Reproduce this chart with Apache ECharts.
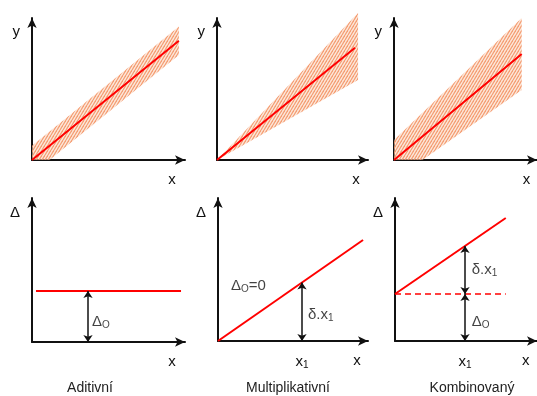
<!DOCTYPE html>
<html><head><meta charset="utf-8">
<script src="https://cdn.jsdelivr.net/npm/echarts@6/dist/echarts.min.js"></script>
<style>html,body{margin:0;padding:0;background:#fff}#c{width:537px;height:396px}</style>
</head><body><div id="c"></div>
<script>
// ---- data ----
const centerLine1 = [[0, 0], [9.6, 8.4]];
const bandUpper1 = [[0, 1], [9.6, 9.4]];
const bandLower1 = [[0, -1], [9.6, 7.4]];
const centerLine2 = [[0, 0], [9.14, 7.9]];
const bandUpper2 = [[0, 0], [9.34, 10.35]];
const bandLower2 = [[0, 0], [9.34, 5.63]];
const centerLine3 = [[0, 0], [8.93, 7.46]];
const bandUpper3 = [[0, 1.41], [8.93, 10.0]];
const bandLower3 = [[0, -1.41], [8.93, 4.93]];
const errAdditive = [[0.26, 3.54], [9.74, 3.54]];
const errMultiplicative = [[0, 0], [9.67, 7.06]];
const errCombined = [[0, 3.29], [7.8, 8.6]];
const errCombinedOffset = [[0, 3.29], [7.8, 3.29]];
const arrowXAdditive = 3.66;
const x1Multiplicative = 5.6;
const x1Combined = 4.93;
const xNamePos = [9.15, 9.2, 9.27, 9.15, 9.27, 9.2];
const yNamePos = [9.0, 9.0, 9.0, 8.96, 8.96, 8.96];
const yNames = ['y', 'y', 'y', 'Δ', 'Δ', 'Δ'];
const panelTitles = ['Aditivní', 'Multiplikativní', 'Kombinovaný'];

// ---- layout ----
const grids = [
  {left: 32, top: 18, width: 153, height: 142},
  {left: 217, top: 18, width: 151, height: 142},
  {left: 394, top: 18, width: 150, height: 142},
  {left: 32, top: 198, width: 153, height: 144},
  {left: 218, top: 198, width: 150, height: 143},
  {left: 395, top: 198, width: 150, height: 143}
];
const titlePos = [[90, 388], [288, 388], [472, 388]];
const FONT = 'Liberation Sans';

function yAt(line, x) {
  const a = line[0], b = line[1];
  return a[1] + (b[1] - a[1]) * (x - a[0]) / (b[0] - a[0]);
}
function clipY0(pts) {
  const out = [], n = pts.length;
  for (let i = 0; i < n; i++) {
    const a = pts[i], b = pts[(i + 1) % n];
    if (a[1] >= 0) out.push(a);
    if ((a[1] >= 0) !== (b[1] >= 0)) {
      const t = a[1] / (a[1] - b[1]);
      out.push([a[0] + t * (b[0] - a[0]), 0]);
    }
  }
  return out;
}
// hatch pattern
const hc = document.createElement('canvas');
hc.width = 3; hc.height = 5;
const hctx = hc.getContext('2d');
hctx.fillStyle = 'rgba(252,218,196,0.55)';
hctx.fillRect(0, 0, 3, 5);
hctx.strokeStyle = 'rgba(243,145,98,0.85)';
hctx.lineWidth = 1.3;
for (let k = -1; k <= 1; k++) {
  hctx.beginPath(); hctx.moveTo(k * 3, 5); hctx.lineTo(k * 3 + 3, 0); hctx.stroke();
}
const hatch = {image: hc, repeat: 'repeat'};

const sub = {i: {fontSize: 15, fontFamily: FONT, color: '#111'}, s: {fontSize: 10, fontFamily: FONT, color: '#111', padding: [7, 0, 0, 0]},
  d: {fontSize: 15, fontFamily: FONT, color: '#111'}};

const xAxes = grids.map((g, i) => {
  const vals = [xNamePos[i]];
  const extra = i === 4 ? x1Multiplicative : i === 5 ? x1Combined : null;
  if (extra !== null) vals.unshift(extra);
  return {
    type: 'value', gridIndex: i, min: 0, max: 10,
    axisLine: {show: true, symbol: ['none', 'arrow'], symbolSize: [7, 10], lineStyle: {color: '#111', width: 2}},
    axisTick: {show: false}, splitLine: {show: false},
    axisLabel: {show: true, customValues: vals, margin: 12, rich: sub,
      formatter: v => (extra !== null && Math.abs(v - extra) < 1e-6) ? '{i|x}{s|1}' : '{i|x}'}
  };
});
const yAxes = grids.map((g, i) => ({
  type: 'value', gridIndex: i, min: 0, max: 10,
  axisLine: {show: true, symbol: ['none', 'arrow'], symbolSize: [7, 10], lineStyle: {color: '#111', width: 2}},
  axisTick: {show: false}, splitLine: {show: false},
  axisLabel: {show: true, customValues: [yNamePos[i]], margin: 12, fontSize: 15, fontFamily: FONT, color: '#111',
    formatter: () => yNames[i]}
}));

const red = '#ff0000';
function lineSeries(i, data, extra) {
  return Object.assign({type: 'line', xAxisIndex: i, yAxisIndex: i, data: data, showSymbol: false, silent: true,
    lineStyle: {color: red, width: 2}, z: 3}, extra || {});
}
function bandSeries(i, upper, lower) {
  const poly = clipY0(upper.concat(lower.slice().reverse()));
  return {type: 'custom', xAxisIndex: i, yAxisIndex: i, data: [0], clip: false, silent: true, z: 1,
    renderItem: (p, api) => ({type: 'polygon', shape: {points: poly.map(pt => api.coord(pt))}, style: {fill: hatch, stroke: 'none'}})};
}
const arrowStyle = {symbol: ['arrow', 'arrow'], symbolSize: 7, silent: true, animation: false,
  lineStyle: {color: '#111', width: 1.5, type: 'solid'}, label: {show: false}};
function arrows(segs) {
  return Object.assign({}, arrowStyle, {data: segs.map(s => [{coord: s[0]}, {coord: s[1]}])});
}
function annot(i, items) {
  return {type: 'scatter', xAxisIndex: i, yAxisIndex: i, symbolSize: 0, silent: true, z: 5,
    data: items.map(it => ({value: it.pos, label: {show: true, position: [0, 0], align: 'left', verticalAlign: 'middle',
      formatter: it.text, rich: sub}}))};
}
const dO = '{d|Δ}{s|O}';
const dx = '{i|δ.x}{s|1}';

const series = [
  bandSeries(0, bandUpper1, bandLower1), lineSeries(0, centerLine1),
  bandSeries(1, bandUpper2, bandLower2), lineSeries(1, centerLine2),
  bandSeries(2, bandUpper3, bandLower3), lineSeries(2, centerLine3),
  lineSeries(3, errAdditive, {markLine: arrows([[[arrowXAdditive, 0], [arrowXAdditive, errAdditive[0][1]]]])}),
  annot(3, [{pos: [3.92, 1.39], text: dO}]),
  lineSeries(4, errMultiplicative, {markLine: arrows([[[x1Multiplicative, 0], [x1Multiplicative, yAt(errMultiplicative, x1Multiplicative)]]])}),
  annot(4, [{pos: [0.87, 3.85], text: dO + '{i|=0}'}, {pos: [6.0, 1.82], text: dx}]),
  lineSeries(5, errCombined, {markLine: arrows([
    [[x1Combined, 0], [x1Combined, errCombinedOffset[0][1]]],
    [[x1Combined, errCombinedOffset[0][1]], [x1Combined, yAt(errCombined, x1Combined)]]])}),
  lineSeries(5, errCombinedOffset, {lineStyle: {color: red, width: 1.5, type: [6, 4]}}),
  annot(5, [{pos: [5.4, 4.97], text: dx}, {pos: [5.4, 1.33], text: dO}])
];

const chart = echarts.init(document.getElementById('c'), null, {renderer: 'canvas'});
chart.setOption({
  animation: false,
  grid: grids,
  xAxis: xAxes,
  yAxis: yAxes,
  series: series,
  graphic: panelTitles.map((t, k) => ({type: 'text', x: titlePos[k][0], y: titlePos[k][1],
    style: {text: t, align: 'center', verticalAlign: 'middle', fontSize: 14, fontFamily: FONT, fill: '#222'}}))
});
</script></body></html>
